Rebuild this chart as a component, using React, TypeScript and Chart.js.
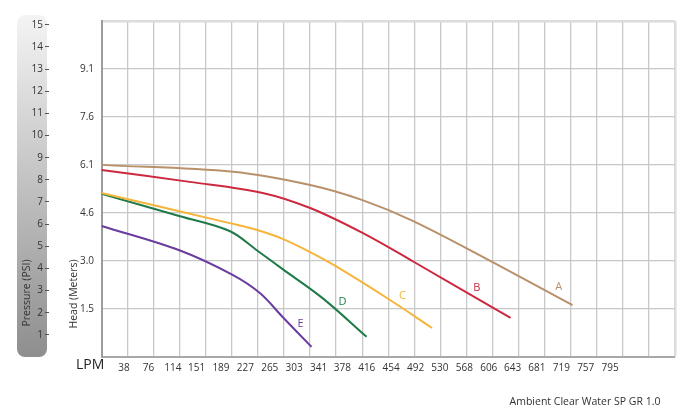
import React, { useEffect, useRef } from 'react';
import { Chart, registerables } from 'chart.js';

Chart.register(...registerables);

// ---- unit helpers (axis definitions, not data) ----
const FT_TO_M = 0.3048;
const PSI_TO_M = 0.70307;
const LPM_PER_GRID = 37.854; // 10 US GPM per grid column
const GRID_COLUMNS = 22;
const HEAD_ROWS = 7; // 5 ft per row

// ---- tick labels ----
const lpmTickValues = [38, 76, 114, 151, 189, 227, 265, 303, 341, 378, 416, 454, 492, 530, 568, 606, 643, 681, 719, 757, 795];
const headTickLabels = ['1.5', '3.0', '4.6', '6.1', '7.6', '9.1'];
const psiTickValues = [1, 2, 3, 4, 5, 6, 7, 8, 9, 10, 11, 12, 13, 14, 15];

// ---- series (flow in LPM, head in metres) ----
const curveNames = ['A', 'B', 'C', 'D', 'E'];
const curveColors = ['#b8916b', '#cc2940', '#f6b53a', '#1f7a4a', '#6a3c9e'];

const aFlow = [0, 191, 303, 379, 452, 568, 684];
const aHead = [6.10, 5.88, 5.46, 4.98, 4.32, 3.01, 1.65];

const bFlow = [0, 128, 234, 303, 379, 452, 594];
const bHead = [5.94, 5.56, 5.21, 4.73, 3.94, 3.04, 1.24];

const cFlow = [0, 186, 226, 263, 303, 342, 419, 480];
const cHead = [5.21, 4.25, 4.03, 3.75, 3.33, 2.86, 1.81, 0.92];

const dFlow = [0, 114, 186, 226, 263, 321, 385];
const dHead = [5.18, 4.47, 4.00, 3.38, 2.79, 1.87, 0.64];

const eFlow = [0, 114, 191, 230, 263, 305];
const eHead = [4.16, 3.38, 2.60, 2.03, 1.27, 0.32];

const curveFlows = [aFlow, bFlow, cFlow, dFlow, eFlow];
const curveHeads = [aHead, bHead, cHead, dHead, eHead];

// curve letter anchors (data units)
const letterFlow = [664, 545, 437, 350, 289];
const letterHead = [2.22, 2.19, 1.94, 1.75, 1.05];

const FONT = "'Open Sans', 'DejaVu Sans', sans-serif";

const decorPlugin = {
  id: 'decor',
  beforeDraw(chart: any) {
    const ctx = chart.ctx;
    ctx.save();
    const x = 17, y = 15, w = 30, h = 342, r = 8;
    const g = ctx.createLinearGradient(0, y, 0, y + h);
    g.addColorStop(0, '#f4f4f4');
    g.addColorStop(1, '#8e8e8e');
    ctx.fillStyle = g;
    ctx.beginPath();
    ctx.moveTo(x + r, y);
    ctx.lineTo(x + w - r, y);
    ctx.arcTo(x + w, y, x + w, y + r, r);
    ctx.lineTo(x + w, y + h - r);
    ctx.arcTo(x + w, y + h, x + w - r, y + h, r);
    ctx.lineTo(x + r, y + h);
    ctx.arcTo(x, y + h, x, y + h - r, r);
    ctx.lineTo(x, y + r);
    ctx.arcTo(x, y, x + r, y, r);
    ctx.closePath();
    ctx.fill();
    ctx.restore();
  },
  afterDraw(chart: any) {
    const ctx = chart.ctx;
    ctx.save();
    ctx.fillStyle = '#333';
    ctx.textAlign = 'center';
    ctx.textBaseline = 'middle';
    ctx.font = `10.5px ${FONT}`;
    ctx.save();
    ctx.translate(27, 293);
    ctx.rotate(-Math.PI / 2);
    ctx.fillText('Pressure (PSI)', 0, 0);
    ctx.restore();
    ctx.save();
    ctx.translate(74, 294);
    ctx.rotate(-Math.PI / 2);
    ctx.fillText('Head (Meters)', 0, 0);
    ctx.restore();

    ctx.fillStyle = '#222';
    ctx.textAlign = 'left';
    ctx.font = `14px ${FONT}`;
    ctx.fillText('LPM', 76, 365);

    ctx.fillStyle = '#333';
    ctx.textAlign = 'center';
    ctx.font = `10.5px ${FONT}`;
    ctx.fillText('Ambient Clear Water SP GR 1.0', 585, 402);

    const xs = chart.scales.x;
    const ys = chart.scales.y;
    ctx.font = `11px ${FONT}`;
    curveNames.forEach((n, i) => {
      ctx.fillStyle = curveColors[i];
      ctx.fillText(n, xs.getPixelForValue(letterFlow[i]), ys.getPixelForValue(letterHead[i]));
    });
    ctx.restore();
  },
};

export default function App() {
  const ref = useRef<HTMLCanvasElement | null>(null);

  useEffect(() => {
    if (!ref.current) return;
    const datasets = curveNames.map((name, i) => ({
      label: name,
      data: curveFlows[i].map((f, j) => ({ x: f, y: curveHeads[i][j] })),
      borderColor: curveColors[i],
      backgroundColor: curveColors[i],
      borderWidth: 2,
      pointRadius: 0,
      fill: false,
      tension: 0.35,
      cubicInterpolationMode: 'default' as const,
      xAxisID: 'x',
      yAxisID: 'y',
    }));

    const chart = new Chart(ref.current, {
      type: 'line',
      data: { datasets },
      plugins: [decorPlugin],
      options: {
        animation: false,
        responsive: false,
        devicePixelRatio: 1,
        layout: { padding: { top: 21, right: 25, left: 0, bottom: 0 } },
        plugins: { legend: { display: false }, tooltip: { enabled: false } },
        scales: {
          x: {
            type: 'linear',
            position: 'bottom',
            weight: 1,
            min: 0,
            max: GRID_COLUMNS * LPM_PER_GRID,
            afterBuildTicks: (s: any) => {
              s.ticks = Array.from({ length: GRID_COLUMNS + 1 }, (_, k) => ({ value: k * LPM_PER_GRID }));
            },
            ticks: { display: false },
            grid: {
              drawTicks: false,
              color: (c: any) => (c.index === GRID_COLUMNS ? '#dcdcdc' : '#c8c8c8'),
              lineWidth: (c: any) => (c.index === GRID_COLUMNS ? 2.5 : 1.3),
            },
            border: { color: '#a8a8a8', width: 2 },
            afterFit: (s: any) => { s.height = 0; },
          },
          x2: {
            type: 'linear',
            position: 'bottom',
            weight: 2,
            min: 3,
            max: 896,
            afterBuildTicks: (s: any) => {
              s.ticks = lpmTickValues.map((v) => ({ value: v }));
            },
            grid: { display: false, drawTicks: false },
            border: { display: false },
            ticks: {
              autoSkip: false,
              maxRotation: 0,
              padding: 5,
              color: '#333',
              font: { family: FONT, size: 10 },
              callback: (v: any) => String(v),
            },
            afterFit: (s: any) => { s.height = 51; },
          },
          y: {
            type: 'linear',
            position: 'left',
            weight: 1,
            min: 0,
            max: HEAD_ROWS * 5 * FT_TO_M,
            afterBuildTicks: (s: any) => {
              s.ticks = Array.from({ length: HEAD_ROWS + 1 }, (_, k) => ({ value: k * 5 * FT_TO_M }));
            },
            ticks: {
              padding: 7.5,
              color: '#333',
              font: { family: FONT, size: 10 },
              callback: (_v: any, i: number) => headTickLabels[i - 1] ?? '',
            },
            grid: {
              drawTicks: false,
              color: (c: any) => (c.index === HEAD_ROWS ? '#dcdcdc' : '#c8c8c8'),
              lineWidth: (c: any) => (c.index === HEAD_ROWS ? 2.5 : 1.3),
            },
            border: { color: '#9c9c9c', width: 2 },
            afterFit: (s: any) => { s.width = 52.5; },
          },
          psi: {
            type: 'linear',
            position: 'left',
            weight: 2,
            min: 0,
            max: (HEAD_ROWS * 5 * FT_TO_M) / PSI_TO_M,
            afterBuildTicks: (s: any) => {
              s.ticks = psiTickValues.map((v) => ({ value: v }));
            },
            ticks: {
              padding: 2,
              color: '#333',
              font: { family: FONT, size: 10 },
              callback: (v: any) => String(v),
            },
            grid: { drawOnChartArea: false, drawTicks: true, tickLength: 4, color: '#555', lineWidth: 1 },
            border: { display: false },
            afterFit: (s: any) => { s.width = 49; },
          },
        },
      } as any,
    });
    return () => chart.destroy();
  }, []);

  return (
    <div style={{ position: 'absolute', left: 0, top: 0, width: 700, height: 408, background: '#fff' }}>
      <canvas ref={ref} width={700} height={408} style={{ width: 700, height: 408, display: 'block' }} />
    </div>
  );
}
